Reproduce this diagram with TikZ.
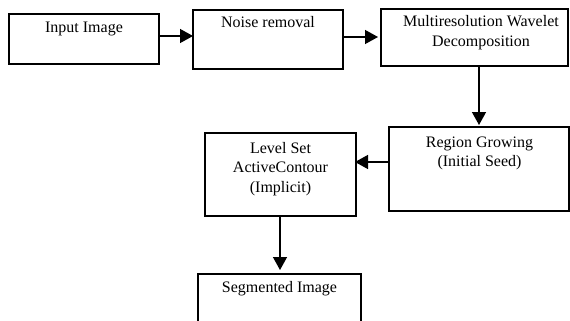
\documentclass[tikz,border=0pt]{standalone}
\usepackage{fontspec}
\setmainfont{Liberation Serif}
\usetikzlibrary{arrows.meta}
\tikzset{
  box/.style={draw, line width=1.4pt, rectangle, inner sep=0pt, outer sep=0pt},
  lbl/.style={anchor=base, inner sep=0pt, font=\fontsize{16}{19.5}\selectfont},
  arr/.style={line width=1.4pt, -{Triangle[length=13pt,width=14pt]}}
}
\newcommand{\mlines}[1]{\begin{tabular}[t]{@{}c@{}}#1\end{tabular}}
\begin{document}
\begin{tikzpicture}[x=1pt,y=-1pt]
\useasboundingbox (0,0) rectangle (570,321);
\clip (0,0) rectangle (570,321);
% boxes
\node[box, minimum width=150pt, minimum height=50pt] (b1) at (84,39) {};
\node[box, minimum width=150pt, minimum height=59pt] (b2) at (268,39.5) {};
\node[box, minimum width=187pt, minimum height=57pt] (b3) at (474.5,37.5) {};
\node[box, minimum width=180pt, minimum height=84pt] (b4) at (479,169) {};
\node[box, minimum width=151pt, minimum height=83pt] (b5) at (280.5,174.5) {};
\node[box, minimum width=163pt, minimum height=80pt] (b6) at (279.5,314) {};
% texts
\node[lbl] (t1) at (84,33) {Input Image};
\node[lbl] (t2) at (268,28) {Noise removal};
\node[lbl] (t3) at (481,27) {\mlines{Multiresolution Wavelet\\Decomposition}};
\node[lbl] (t4) at (479.5,147) {\mlines{Region Growing\\(Initial Seed)}};
\node[lbl] (t5) at (280.5,153) {\mlines{Level Set\\ActiveContour\\(Implicit)}};
\node[lbl] (t6) at (279.5,292) {Segmented Image};
% connectors
\draw[arr] ([yshift=3pt]b1.east) -- ([yshift=3pt]b1.east -| b2.west);
\draw[arr, shorten >=3pt] ([yshift=0.5pt]b3.west -| b2.east) -- ([yshift=0.5pt]b3.west);
\draw[arr, shorten >=2pt] (b3.south -| b4.north) -- (b4.north);
\draw[arr, shorten >=-1pt] ([yshift=7pt]b4.west) -- ([yshift=7pt]b4.west -| b5.east);
\draw[arr, shorten >=4pt] ([xshift=-0.5pt]b5.south) -- ([xshift=-0.5pt]b5.south |- b6.north);
\end{tikzpicture}
\end{document}
